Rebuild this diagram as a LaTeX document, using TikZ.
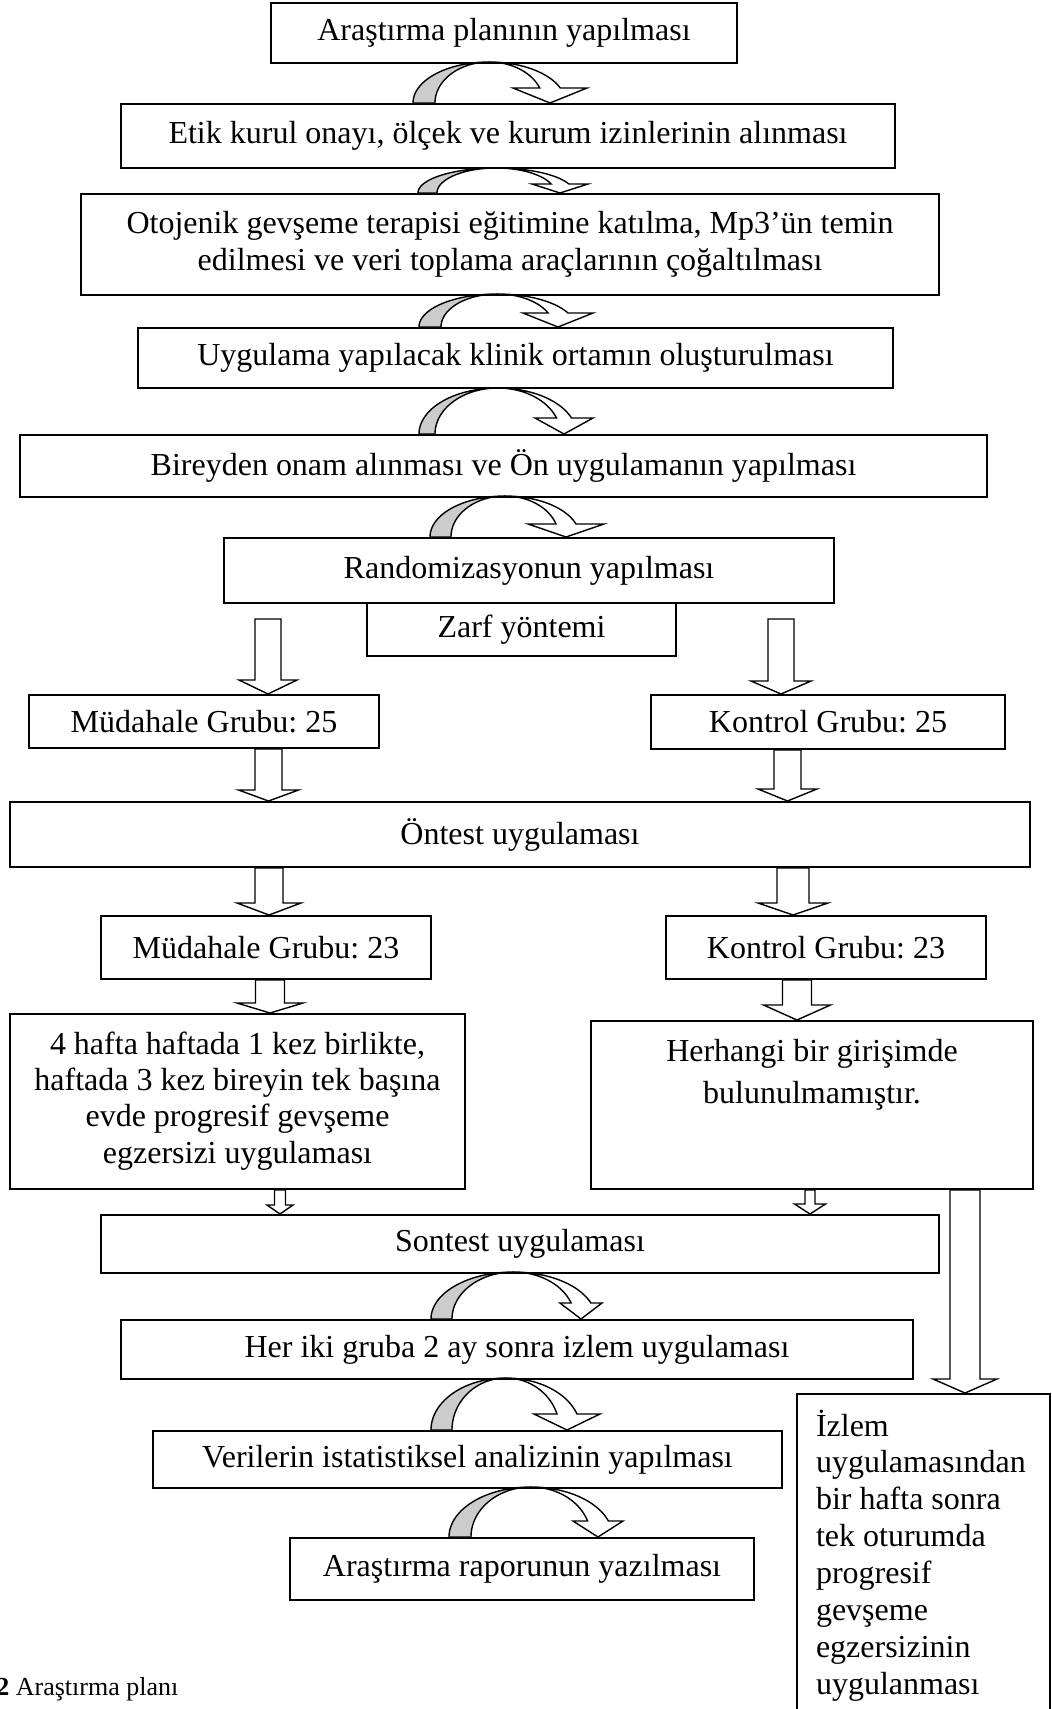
\documentclass[tikz,border=0pt]{standalone}
\usepackage{fontspec}
\setmainfont{Liberation Serif}
\usetikzlibrary{calc}
\frenchspacing
\newcommand\bxfont{\fontsize{16}{18.5}\selectfont}
% straight block arrow: #1 top point, #2 tip point, #3 shaft half width, #4 head half width, #5 head length (px)
\newcommand\blkarrow[5]{%
  \draw[blk] let \p1=#1, \p2=#2 in
    ({\x1-#3*0.5pt},\y1) -- ({\x1-#3*0.5pt},{\y2+#5*0.5pt}) -- ({\x1-#4*0.5pt},{\y2+#5*0.5pt})
    -- (\x1,\y2) -- ({\x1+#4*0.5pt},{\y2+#5*0.5pt}) -- ({\x1+#3*0.5pt},{\y2+#5*0.5pt})
    -- ({\x1+#3*0.5pt},\y1) -- cycle;}
% curved arrow: #1 left foot x, #2 band width, #3 top y, #4 base y, #5 head base y, #6 tip x, #7 head half width
\newcommand\curvarrow[7]{%
  \pgfmathsetmacro\cvcs{sqrt(1-((#4-#5)/(#4-#3))^2)}%
  \pgfmathsetmacro\cvao{(#6-#1+0.5*#2*\cvcs)/(1+\cvcs)}%
  \pgfmathsetmacro\cvai{\cvao-#2}%
  \pgfmathsetmacro\cvcx{#1+\cvao}%
  \pgfmathsetmacro\cvbb{#4-#3}%
  \pgfmathsetmacro\cvth{acos(\cvcs)}%
  \filldraw[cvw] plot[domain=90:\cvth,samples=30] ({\cvcx+\cvao*cos(\x)},{#4-\cvbb*sin(\x)})
    -- (#6+#7,#5) -- (#6,#4) -- (#6-#7,#5)
    -- plot[domain=\cvth:90,samples=30] ({\cvcx+\cvai*cos(\x)},{#4-\cvbb*sin(\x)}) -- cycle;
  \filldraw[cvg] plot[domain=180:90,samples=40] ({\cvcx+\cvao*cos(\x)},{#4-\cvbb*sin(\x)})
    -- plot[domain=90:180,samples=40] ({\cvcx+\cvai*cos(\x)},{#4-\cvbb*sin(\x)}) -- cycle;}
\tikzset{
  bx/.style 2 args={draw, line width=1pt, minimum width=#1*0.5pt, minimum height=#2*0.5pt,
    inner sep=0pt, anchor=north west, font=\bxfont, align=center},
  tbx/.style={draw, line width=1pt, inner sep=0pt, anchor=north west, font=\bxfont},
  blk/.style={draw, fill=white, line width=0.7pt, line join=miter},
  cvg/.style={draw, fill=gray!40, line width=0.7pt},
  cvw/.style={draw, fill=white, line width=0.7pt},
}
\begin{document}
\begin{tikzpicture}[x=0.5pt,y=-0.5pt]
\useasboundingbox (0,0) rectangle (1051,1709);
\clip (0,0) rectangle (1051,1709);
% boxes
\node[bx={466}{60}] (n1) at (270,2) {Araştırma planının yapılması};
\node[bx={774}{64}] (n2) at (120,103) {Etik kurul onayı, ölçek ve kurum izinlerinin alınması};
\node[bx={858}{101}] (n3) at (80,193) {Otojenik gevşeme terapisi eğitimine katılma, Mp3’ün temin\\edilmesi ve veri toplama araçlarının çoğaltılması};
\node[bx={755}{60}] (n4) at (137,327) {Uygulama yapılacak klinik ortamın oluşturulması};
\node[bx={967}{62}] (n5) at (19,434) {Bireyden onam alınması ve Ön uygulamanın yapılması};
\node[bx={610}{65}] (n6) at (223,537) {Randomizasyonun yapılması};
\node[bx={309}{53}] (zarf) at (366,602) {Zarf yöntemi};
\node[bx={350}{53}] (m25) at (28,694) {Müdahale Grubu: 25};
\node[bx={354}{54}] (k25) at (650,694) {Kontrol Grubu: 25};
\node[bx={1020}{65}] (ontest) at (9,801) {Öntest uygulaması};
\node[bx={330}{63}] (m23) at (100,915) {Müdahale Grubu: 23};
\node[bx={320}{63}] (k23) at (665,915) {Kontrol Grubu: 23};
\node[tbx] (ltext) at (9,1013) {\parbox[c][87.5pt][t]{227.5pt}{\centering\setlength{\baselineskip}{18.2pt}\vspace*{6pt}%
  \rule{0pt}{14pt}4 hafta haftada 1 kez birlikte,\\ haftada 3 kez bireyin tek başına\\ evde progresif gevşeme\\ egzersizi uygulaması\par}};
\node[tbx] (rtext) at (590,1020) {\parbox[c][84pt][t]{221pt}{\centering\setlength{\baselineskip}{21pt}\vspace*{6pt}%
  \rule{0pt}{14pt}Herhangi bir girişimde\\ bulunulmamıştır.\par}};
\node[bx={838}{58}] (sontest) at (100,1214) {Sontest uygulaması};
\node[bx={792}{59}] (heriki) at (120,1319) {Her iki gruba 2 ay sonra izlem uygulaması};
\node[bx={629}{57}] (veriler) at (152,1430) {Verilerin istatistiksel analizinin yapılması};
\node[bx={464}{62}] (rapor) at (289,1537) {Araştırma raporunun yazılması};
\node[tbx] (izlem) at (796,1393) {\hspace*{9.5pt}\parbox[c][170pt][t]{117pt}{\raggedright\setlength{\baselineskip}{18.45pt}\vspace*{7pt}%
  \rule{0pt}{14pt}İzlem\\ uygulamasından\\ bir hafta sonra\\ tek oturumda\\ progresif\\ gevşeme\\ egzersizinin\\ uygulanması\par}};
\node[anchor=base west, inner sep=0pt, font=\fontsize{13}{15}\selectfont] (cap) at (-4,1695) {\textbf{2} Araştırma planı};
% curved arrows
\curvarrow{413}{22}{62}{103}{88}{550}{37}
\curvarrow{418}{19}{168}{193}{184}{560}{28}
\curvarrow{419}{22}{294}{327}{313}{558}{35}
\curvarrow{419}{16}{388}{434}{418}{564}{29}
\curvarrow{430}{21}{496}{537}{524}{566}{38}
\curvarrow{431}{21}{1272}{1319}{1303}{581}{21}
\curvarrow{431}{21}{1378}{1430}{1414}{567}{33}
\curvarrow{449}{22}{1487}{1537}{1521}{598}{25}
% straight block arrows
\blkarrow{(268,619)}{(268,0 |- m25.north)}{13}{29}{14}
\blkarrow{(268.5,0 |- m25.south)}{(268.5,0 |- ontest.north)}{13.5}{30}{11}
\blkarrow{(269,0 |- ontest.south)}{(269,0 |- m23.north)}{14}{32}{12}
\blkarrow{(270,0 |- m23.south)}{(270,0 |- ltext.north)}{14.5}{33}{10}
\blkarrow{(280,0 |- ltext.south)}{(280,0 |- sontest.north)}{5.5}{13}{9}
\blkarrow{(781,619)}{(781,0 |- k25.north)}{13}{30}{13}
\blkarrow{(787.5,0 |- k25.south)}{(787.5,0 |- ontest.north)}{13.5}{29.5}{12}
\blkarrow{(793,0 |- ontest.south)}{(793,0 |- k23.north)}{16}{35}{12}
\blkarrow{(797,0 |- k23.south)}{(797,0 |- rtext.north)}{14.5}{33.5}{15}
\blkarrow{(810,0 |- rtext.south)}{(810,0 |- sontest.north)}{5}{15.5}{10}
\blkarrow{(965,0 |- rtext.south)}{(965,0 |- izlem.north)}{15}{32}{14}
\end{tikzpicture}
\end{document}
